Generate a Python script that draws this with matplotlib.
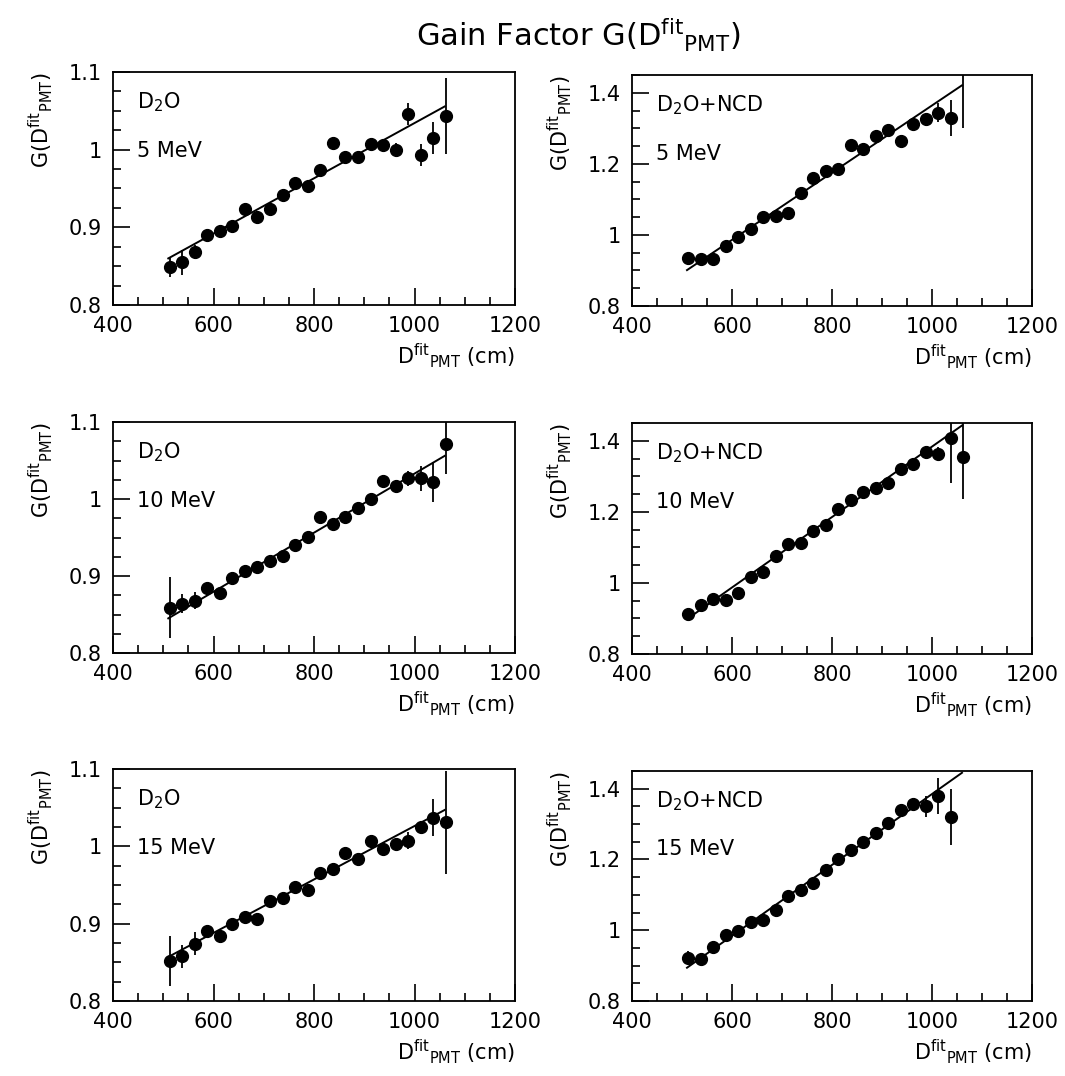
import numpy as np
import matplotlib
matplotlib.use("Agg")
import matplotlib.pyplot as plt
from matplotlib.ticker import MultipleLocator, FormatStrFormatter

plt.rcParams['font.family'] = ['DejaVu Sans']
plt.rcParams['mathtext.fontset'] = 'dejavusans'

# ---- data ----
x_d = [512.5 + 25 * i for i in range(23)]

d2o_5_y = [0.849, 0.855, 0.868, 0.890, 0.895, 0.902, 0.923, 0.913, 0.923, 0.942, 0.957, 0.953,
           0.974, 1.008, 0.990, 0.990, 1.007, 1.006, 1.000, 1.046, 0.993, 1.015, 1.043]
d2o_5_e = [0.013, 0.016, 0.009, 0.008, 0.006, 0.005, 0.006, 0.005, 0.005, 0.005, 0.006, 0.006,
           0.006, 0.004, 0.006, 0.006, 0.008, 0.008, 0.008, 0.014, 0.014, 0.021, 0.049]

ncd_5_y = [0.935, 0.933, 0.932, 0.970, 0.995, 1.017, 1.051, 1.053, 1.063, 1.119, 1.159, 1.179,
           1.186, 1.254, 1.243, 1.279, 1.296, 1.264, 1.313, 1.327, 1.344, 1.329, 1.48]
ncd_5_e = [0.006, 0.006, 0.006, 0.006, 0.006, 0.006, 0.006, 0.006, 0.006, 0.006, 0.006, 0.006,
           0.006, 0.006, 0.006, 0.006, 0.006, 0.006, 0.008, 0.012, 0.026, 0.05, 0.18]

d2o_10_y = [0.859, 0.864, 0.868, 0.884, 0.878, 0.897, 0.907, 0.912, 0.920, 0.926, 0.940, 0.951,
            0.977, 0.967, 0.976, 0.988, 1.000, 1.023, 1.017, 1.027, 1.027, 1.022, 1.072]
d2o_10_e = [0.04, 0.012, 0.011, 0.006, 0.005, 0.005, 0.005, 0.005, 0.005, 0.005, 0.005, 0.005,
            0.005, 0.005, 0.005, 0.005, 0.005, 0.005, 0.008, 0.010, 0.016, 0.026, 0.04]

ncd_10_y = [0.912, 0.939, 0.956, 0.951, 0.973, 1.017, 1.031, 1.075, 1.109, 1.113, 1.146, 1.164,
            1.207, 1.233, 1.256, 1.266, 1.282, 1.320, 1.334, 1.367, 1.364, 1.407, 1.355]
ncd_10_e = [0.008, 0.006, 0.006, 0.006, 0.006, 0.006, 0.006, 0.006, 0.006, 0.006, 0.006, 0.006,
            0.006, 0.006, 0.006, 0.006, 0.006, 0.006, 0.006, 0.010, 0.018, 0.125, 0.12]

d2o_15_y = [0.852, 0.858, 0.874, 0.890, 0.884, 0.899, 0.909, 0.906, 0.929, 0.933, 0.947, 0.943,
            0.965, 0.971, 0.991, 0.984, 1.007, 0.996, 1.003, 1.007, 1.025, 1.037, 1.031]
d2o_15_e = [0.032, 0.015, 0.015, 0.008, 0.006, 0.006, 0.006, 0.006, 0.006, 0.006, 0.006, 0.006,
            0.006, 0.006, 0.006, 0.006, 0.006, 0.006, 0.006, 0.011, 0.007, 0.024, 0.067]

ncd_15_y = [0.922, 0.920, 0.953, 0.986, 0.998, 1.022, 1.028, 1.056, 1.097, 1.115, 1.134, 1.169,
            1.201, 1.226, 1.250, 1.275, 1.303, 1.339, 1.358, 1.350, 1.379, 1.320]
ncd_15_e = [0.02, 0.008, 0.006, 0.006, 0.006, 0.006, 0.006, 0.006, 0.006, 0.006, 0.006, 0.006,
            0.006, 0.006, 0.006, 0.006, 0.006, 0.006, 0.008, 0.03, 0.05, 0.08]

fit_x = [510, 1060]
fit_d2o_5 = [0.860, 1.0556]
fit_ncd_5 = [0.901, 1.421]
fit_d2o_10 = [0.845, 1.056]
fit_ncd_10 = [0.898, 1.443]
fit_d2o_15 = [0.857, 1.047]
fit_ncd_15 = [0.894, 1.445]

W, H = 1065, 1076
fig = plt.figure(figsize=(W / 100, H / 100), dpi=100)

def box(l, t, r, b):
    return [l / W, 1 - b / H, (r - l) / W, (b - t) / H]

panels = [
    (box(113, 72, 515, 305), d2o_5_y, d2o_5_e, fit_d2o_5, "D$_2$O", "5 MeV", False),
    (box(632, 75, 1032, 306), ncd_5_y, ncd_5_e, fit_ncd_5, "D$_2$O+NCD", "5 MeV", True),
    (box(113, 422, 515, 653), d2o_10_y, d2o_10_e, fit_d2o_10, "D$_2$O", "10 MeV", False),
    (box(632, 423, 1032, 654), ncd_10_y, ncd_10_e, fit_ncd_10, "D$_2$O+NCD", "10 MeV", True),
    (box(113, 769, 515, 1001), d2o_15_y, d2o_15_e, fit_d2o_15, "D$_2$O", "15 MeV", False),
    (box(632, 771, 1032, 1001), ncd_15_y, ncd_15_e, fit_ncd_15, "D$_2$O+NCD", "15 MeV", True),
]

ylab = r"G(D$^{\mathrm{fit}}{}_{\mathrm{PMT}}$)"
xlab = r"D$^{\mathrm{fit}}{}_{\mathrm{PMT}}$ (cm)"

for rect, yv, ye, fy, t1, t2, ncd in panels:
    ax = fig.add_axes(rect)
    xs = x_d[:len(yv)]
    ax.errorbar(xs, yv, yerr=ye, fmt='o', color='black', ms=8.5, elinewidth=1.3,
                capsize=0, clip_on=True)
    ax.plot(fit_x, fy, color='black', lw=1.4)
    ax.set_xlim(400, 1200)
    if ncd:
        ax.set_ylim(0.8, 1.45)
        ax.yaxis.set_major_locator(MultipleLocator(0.2))
        ax.yaxis.set_minor_locator(MultipleLocator(0.05))
    else:
        ax.set_ylim(0.8, 1.1)
        ax.yaxis.set_major_locator(MultipleLocator(0.1))
        ax.yaxis.set_minor_locator(MultipleLocator(0.025))
    ax.yaxis.set_major_formatter(FormatStrFormatter('%g'))
    ax.xaxis.set_major_locator(MultipleLocator(200))
    ax.xaxis.set_minor_locator(MultipleLocator(50))
    ax.tick_params(which='both', direction='in', top=False, right=False,
                   labelsize=15, width=1.2)
    ax.tick_params(which='major', length=12, pad=8)
    ax.tick_params(which='minor', length=6)
    for s in ax.spines.values():
        s.set_linewidth(1.3)
    ax.text(0.06, 0.87, t1, transform=ax.transAxes, fontsize=15, va='center', ha='left')
    ax.text(0.06, 0.66, t2, transform=ax.transAxes, fontsize=15, va='center', ha='left')
    ax.set_xlabel(xlab, fontsize=15, loc='right', labelpad=4)
    ax.set_ylabel(ylab, fontsize=15, loc='top', labelpad=10)

fig.text(0.543, 0.967, r"Gain Factor G(D$^{\mathrm{fit}}{}_{\mathrm{PMT}}$)", fontsize=22,
         ha='center', va='center')

fig.savefig("out.png", dpi=100, facecolor='white')
